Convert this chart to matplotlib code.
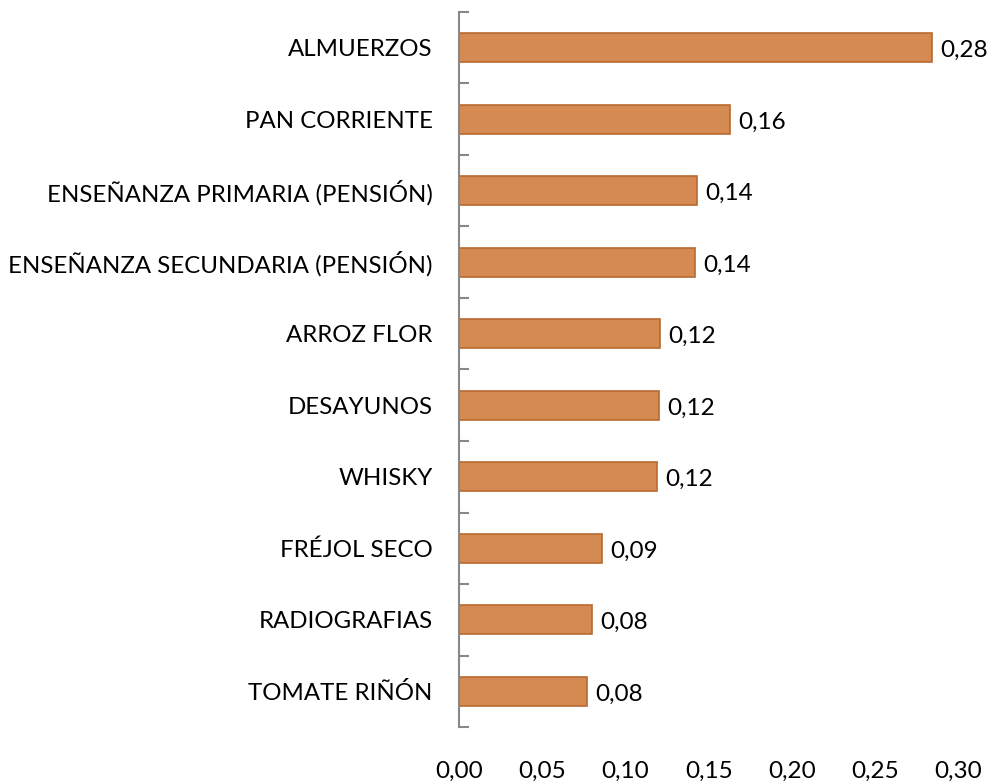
import matplotlib.pyplot as plt

categories = ['ALMUERZOS', 'PAN CORRIENTE', 'ENSEÑANZA PRIMARIA (PENSIÓN)',
              'ENSEÑANZA SECUNDARIA (PENSIÓN)', 'ARROZ FLOR', 'DESAYUNOS',
              'WHISKY', 'FRÉJOL SECO', 'RADIOGRAFIAS', 'TOMATE RIÑÓN']
values = [0.284, 0.163, 0.143, 0.142, 0.121, 0.120, 0.119, 0.086, 0.080, 0.077]
xticks = [0.00, 0.05, 0.10, 0.15, 0.20, 0.25, 0.30]

plt.rcParams['font.family'] = ['Lato', 'DejaVu Sans']

fig = plt.figure(figsize=(9.92, 7.83), dpi=100)
ax = fig.add_axes([0.4627, 0.0715, 0.5033, 0.9132])

pos = list(range(len(categories)))[::-1]
bars = ax.barh(pos, values, height=0.41, color='#D58A52', edgecolor='#B86A2F', linewidth=1.2)

ax.set_ylim(-0.5, len(categories) - 0.5)
ax.set_xlim(0, 0.30)
ax.set_yticks(pos)
ax.set_yticklabels(categories, fontsize=17.3)
ax.set_yticks([p - 0.5 for p in range(len(categories) + 1)], minor=True)
ax.tick_params(axis='y', which='major', length=0, pad=19)
ax.tick_params(axis='y', which='minor', direction='in', length=7, width=1.5, color='#888888')

ax.set_xticks(xticks)
ax.set_xticklabels([f'{v:.2f}'.replace('.', ',') for v in xticks], fontsize=17.5)
ax.tick_params(axis='x', length=0, pad=24)

for s in ['top', 'right', 'bottom']:
    ax.spines[s].set_visible(False)
ax.spines['left'].set_color('#888888')
ax.spines['left'].set_linewidth(1.5)

# value labels sit a touch below the bar centre in the original
for b, v in zip(bars, values):
    ax.annotate(f'{v:.2f}'.replace('.', ','), (b.get_width(), b.get_y() + b.get_height() / 2),
                xytext=(6, -2), textcoords='offset points', va='center', ha='left', fontsize=17.5)

fig.savefig('out.png', dpi=100)
